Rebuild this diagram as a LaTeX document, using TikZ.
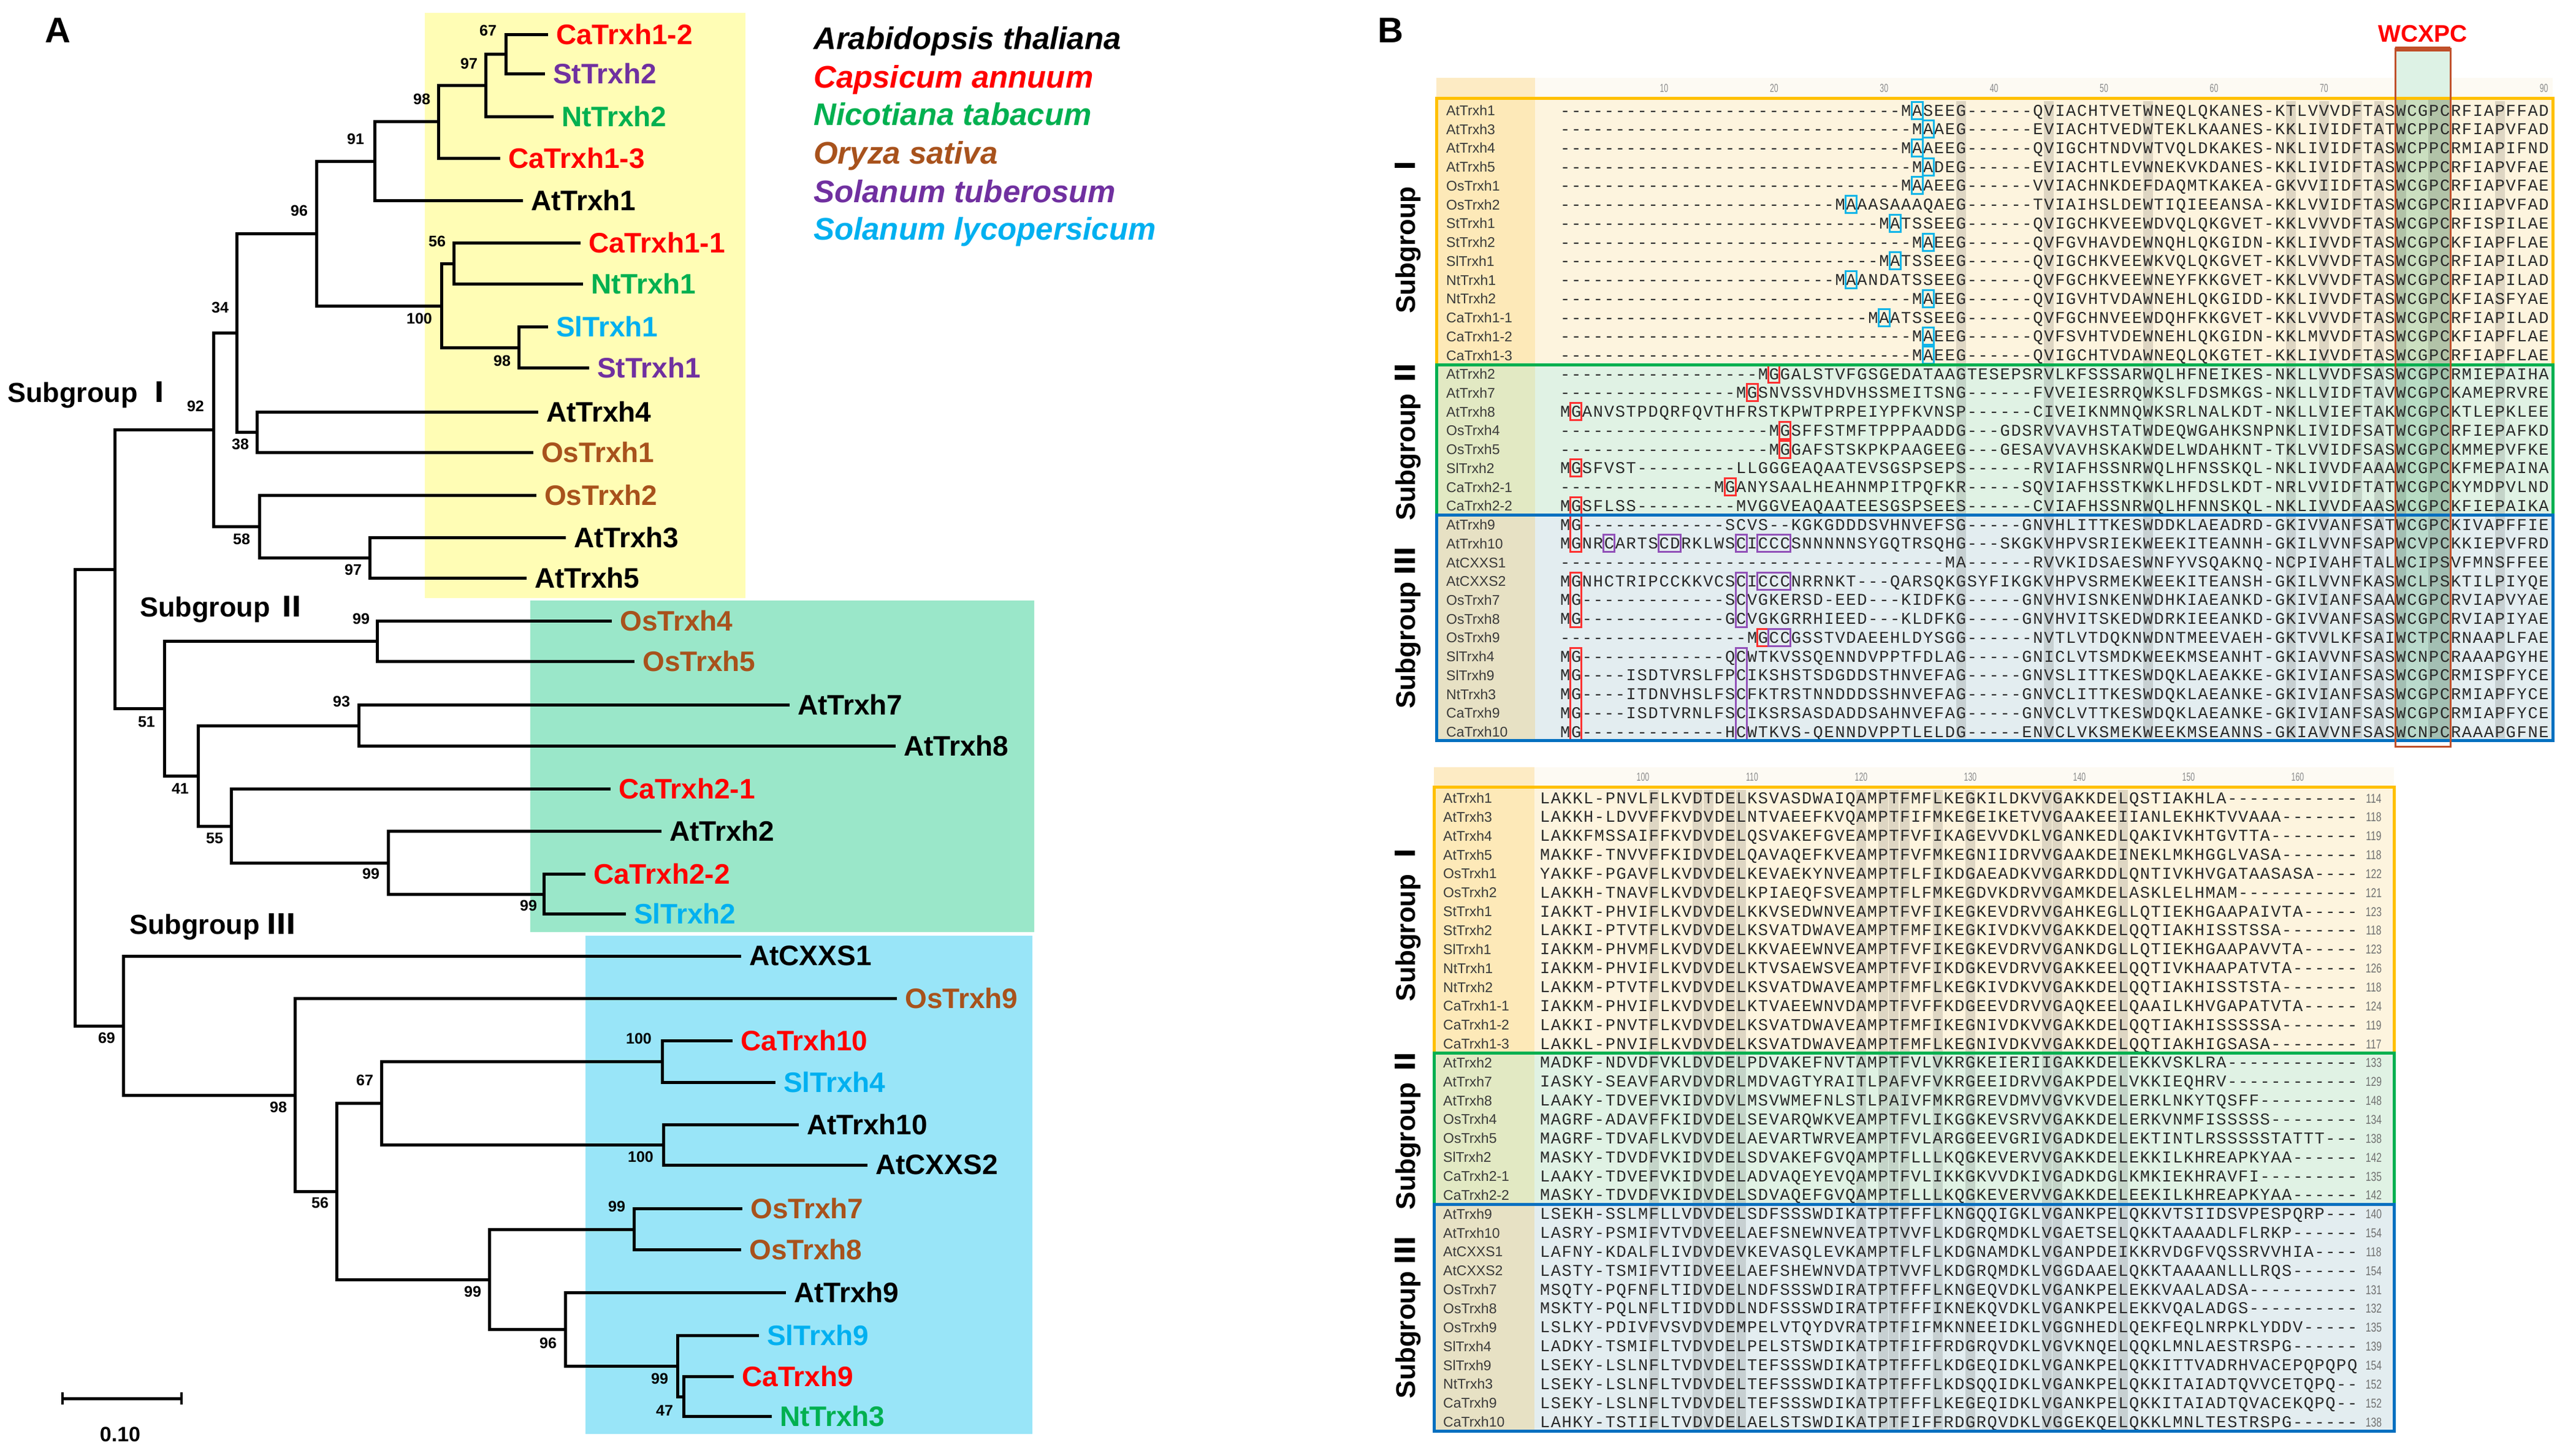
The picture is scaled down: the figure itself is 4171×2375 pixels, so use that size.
\documentclass[tikz,border=0pt]{standalone}
\usepackage{fontspec}
\setmainfont{Liberation Sans}
\newfontfamily\cjk{Noto Sans CJK SC}
\newfontfamily\seqf{Liberation Mono}
\usepackage{graphicx}
\usetikzlibrary{positioning}

\definecolor{cared}{HTML}{FF0000}
\definecolor{ntgreen}{HTML}{00B050}
\definecolor{osbrown}{HTML}{A8521C}
\definecolor{stpurple}{HTML}{7030A0}
\definecolor{slblue}{HTML}{00B0F0}
\definecolor{bgyellow}{HTML}{FFFDB5}
\definecolor{bggreen}{HTML}{9AE7C9}
\definecolor{bgblue}{HTML}{99E5F8}
\definecolor{sgonec}{HTML}{FFC000}
\definecolor{sgtwoc}{HTML}{00B050}
\definecolor{sgthreec}{HTML}{0070C0}
\definecolor{bgone}{HTML}{FDF4DE}
\definecolor{bgonen}{HTML}{FDE9B8}
\definecolor{bgtwo}{HTML}{E0F2E4}
\definecolor{bgtwon}{HTML}{E2E9C3}
\definecolor{bgthree}{HTML}{E3EDF0}
\definecolor{bgthreen}{HTML}{E7E1C4}
\definecolor{rulerbg}{HTML}{FDFAF3}
\definecolor{rulern}{HTML}{FDEBC4}
\definecolor{seqc}{HTML}{2A2A2A}
\definecolor{nmc}{HTML}{3A3A3A}
\definecolor{cntc}{HTML}{707070}
\definecolor{rlc}{HTML}{8A8A8A}
\definecolor{cybc}{HTML}{10B4E8}
\definecolor{rdbc}{HTML}{FF3030}
\definecolor{ppbc}{HTML}{9150B8}
\definecolor{wcc}{HTML}{C0502A}
\definecolor{wcfill}{HTML}{DDF2E5}
\definecolor{wcg}{HTML}{6FB88A}

\newlength\cw
\newcount\gapn
\newcommand\gaps[1]{\gapn=#1\relax\loop\ifnum\gapn>0 \makebox[\cw]{-}\advance\gapn by -1\relax\repeat}
\newcommand\sq[1]{\sqloop#1\relax}
\def\sqloop#1{\ifx\relax#1\else\makebox[\cw]{#1}\expandafter\sqloop\fi}

\newcommand\toprow[3]{%
 \node[nm] (tn#1) at (2359,{180+#1*30.73+8.5}) {#2};
 \node[seq] (ts#1) at (2544,{180+#1*30.73+9}) {#3};}
\newcommand\botrow[4]{%
 \node[nm] (bn#1) at (2354,{1302+#1*30.85+8.5}) {#2};
 \node[seq] (bs#1) at (2511,{1302+#1*30.85+9}) {#3};
 \node[cnt] (bc#1) at (3872,{1302+#1*30.85+8}) {\scalebox{0.75}[1]{#4}};}
\newcommand\hlbox[5]{\draw[#1] ({2553+(#2-1)*17.94-9},{180+#4*30.73-14}) rectangle ({2553+(#3-1)*17.94+9},{180+#5*30.73+14});}
\newcommand\leafnode[5]{\coordinate (t#1) at (#2,#3); \node[lab,text=#4,right=16pt of t#1] (L#1) {#5};}

\tikzset{
 lab/.style={font=\fontsize{46}{46}\selectfont\bfseries, inner sep=0pt},
 bs/.style={font=\fontsize{25}{25}\selectfont\bfseries, inner sep=0pt},
 br/.style={line width=5pt, line cap=rect},
 sg/.style={font=\fontsize{45}{45}\selectfont\bfseries, inner sep=0pt, anchor=base west},
 leg/.style={font=\fontsize{51}{51}\selectfont\bfseries\itshape, inner sep=0pt, anchor=base west},
 seq/.style={font=\seqf\fontsize{27}{27}\selectfont, inner sep=0pt, anchor=base west, text=seqc},
 nm/.style={font=\fontsize{23}{23}\selectfont, inner sep=0pt, anchor=base west, text=nmc},
 cnt/.style={font=\fontsize{21}{21}\selectfont, inner sep=0pt, anchor=base, text=cntc},
 rl/.style={font=\fontsize{19}{19}\selectfont, inner sep=0pt, anchor=base, text=rlc},
 sgB/.style={font=\fontsize{44}{44}\selectfont\bfseries, inner sep=0pt, rotate=90},
 cyb/.style={draw=cybc, line width=3pt},
 rdb/.style={draw=rdbc, line width=3pt},
 ppb/.style={draw=ppbc, line width=3pt},
 band/.style={fill=black, fill opacity=0.12},
}

\begin{document}
\begin{tikzpicture}[x=1pt,y=-1pt]
\useasboundingbox (0,0) rectangle (4171,2375);
\fill[white] (0,0) rectangle (4171,2375);

% ---------------- Panel A backgrounds
\fill[bgyellow] (693,21) rectangle (1216,976);
\fill[bggreen] (865,980) rectangle (1687,1521);
\fill[bgblue] (955,1527) rectangle (1684,2340);

\node[font=\fontsize{58}{58}\selectfont\bfseries, anchor=base west, inner sep=0pt] (pA) at (73,69) {A};

% leaves
\leafnode{1}{891}{56}{cared}{CaTrxh1-2}
\leafnode{2}{886}{120}{stpurple}{StTrxh2}
\leafnode{3}{900}{190}{ntgreen}{NtTrxh2}
\leafnode{4}{813}{258}{cared}{CaTrxh1-3}
\leafnode{5}{850}{327}{black}{AtTrxh1}
\leafnode{6}{944}{396}{cared}{CaTrxh1-1}
\leafnode{7}{948}{463}{ntgreen}{NtTrxh1}
\leafnode{8}{891}{533}{slblue}{SlTrxh1}
\leafnode{9}{958}{600}{stpurple}{StTrxh1}
\leafnode{10}{875}{672}{black}{AtTrxh4}
\leafnode{11}{867}{738}{osbrown}{OsTrxh1}
\leafnode{12}{872}{808}{osbrown}{OsTrxh2}
\leafnode{13}{920}{877}{black}{AtTrxh3}
\leafnode{14}{856}{943}{black}{AtTrxh5}
\leafnode{15}{995}{1013}{osbrown}{OsTrxh4}
\leafnode{16}{1032}{1079}{osbrown}{OsTrxh5}
\leafnode{17}{1285}{1150}{black}{AtTrxh7}
\leafnode{18}{1458}{1217}{black}{AtTrxh8}
\leafnode{19}{993}{1287}{cared}{CaTrxh2-1}
\leafnode{20}{1076}{1356}{black}{AtTrxh2}
\leafnode{21}{952}{1426}{cared}{CaTrxh2-2}
\leafnode{22}{1018}{1491}{slblue}{SlTrxh2}
\leafnode{23}{1206}{1560}{black}{AtCXXS1}
\leafnode{24}{1460}{1629}{osbrown}{OsTrxh9}
\leafnode{25}{1192}{1698}{cared}{CaTrxh10}
\leafnode{26}{1262}{1766}{slblue}{SlTrxh4}
\leafnode{27}{1300}{1835}{black}{AtTrxh10}
\leafnode{28}{1412}{1901}{black}{AtCXXS2}
\leafnode{29}{1208}{1972}{osbrown}{OsTrxh7}
\leafnode{30}{1206}{2039}{osbrown}{OsTrxh8}
\leafnode{31}{1279}{2109}{black}{AtTrxh9}
\leafnode{32}{1235}{2179}{slblue}{SlTrxh9}
\leafnode{33}{1194}{2246}{cared}{CaTrxh9}
\leafnode{34}{1256}{2311}{ntgreen}{NtTrxh3}

% internal nodes
\coordinate (nA) at (825,88);
\coordinate (nB) at (792,139);
\coordinate (nC) at (715,198);
\coordinate (nD) at (611,263);
\coordinate (nE) at (740,430);
\coordinate (nF) at (846,567);
\coordinate (nG) at (720,499);
\coordinate (nH) at (516,381);
\coordinate (nI) at (419,705);
\coordinate (nJ) at (386,543);
\coordinate (nK) at (603,910);
\coordinate (nL) at (423,859);
\coordinate (nM) at (348,701);
\coordinate (nN) at (615,1046);
\coordinate (nO) at (585,1184);
\coordinate (nP) at (887,1459);
\coordinate (nQ) at (633,1408);
\coordinate (nR) at (377,1348);
\coordinate (nS) at (323,1266);
\coordinate (nT) at (268,1156);
\coordinate (nU) at (187,929);
\coordinate (nV) at (1080,1732);
\coordinate (nW) at (1082,1868);
\coordinate (nX) at (622,1800);
\coordinate (nY) at (1034,2006);
\coordinate (nZ) at (1115,2279);
\coordinate (nAA) at (1105,2229);
\coordinate (nAB) at (922,2169);
\coordinate (nAC) at (798,2088);
\coordinate (nAD) at (549,1944);
\coordinate (nAE) at (481,1787);
\coordinate (nAF) at (201,1674);
\coordinate (root) at (122,1302);

\draw[br] (nA) |- (t1); \draw[br] (nA) |- (t2);
\draw[br] (nB) |- (nA); \draw[br] (nB) |- (t3);
\draw[br] (nC) |- (nB); \draw[br] (nC) |- (t4);
\draw[br] (nD) |- (nC); \draw[br] (nD) |- (t5);
\draw[br] (nE) |- (t6); \draw[br] (nE) |- (t7);
\draw[br] (nF) |- (t8); \draw[br] (nF) |- (t9);
\draw[br] (nG) |- (nE); \draw[br] (nG) |- (nF);
\draw[br] (nH) |- (nD); \draw[br] (nH) |- (nG);
\draw[br] (nI) |- (t10); \draw[br] (nI) |- (t11);
\draw[br] (nJ) |- (nH); \draw[br] (nJ) |- (nI);
\draw[br] (nK) |- (t13); \draw[br] (nK) |- (t14);
\draw[br] (nL) |- (t12); \draw[br] (nL) |- (nK);
\draw[br] (nM) |- (nJ); \draw[br] (nM) |- (nL);
\draw[br] (nN) |- (t15); \draw[br] (nN) |- (t16);
\draw[br] (nO) |- (t17); \draw[br] (nO) |- (t18);
\draw[br] (nP) |- (t21); \draw[br] (nP) |- (t22);
\draw[br] (nQ) |- (t20); \draw[br] (nQ) |- (nP);
\draw[br] (nR) |- (t19); \draw[br] (nR) |- (nQ);
\draw[br] (nS) |- (nO); \draw[br] (nS) |- (nR);
\draw[br] (nT) |- (nN); \draw[br] (nT) |- (nS);
\draw[br] (nU) |- (nM); \draw[br] (nU) |- (nT);
\draw[br] (nV) |- (t25); \draw[br] (nV) |- (t26);
\draw[br] (nW) |- (t27); \draw[br] (nW) |- (t28);
\draw[br] (nX) |- (nV); \draw[br] (nX) |- (nW);
\draw[br] (nY) |- (t29); \draw[br] (nY) |- (t30);
\draw[br] (nZ) |- (t33); \draw[br] (nZ) |- (t34);
\draw[br] (nAA) |- (t32); \draw[br] (nAA) |- (nZ);
\draw[br] (nAB) |- (t31); \draw[br] (nAB) |- (nAA);
\draw[br] (nAC) |- (nY); \draw[br] (nAC) |- (nAB);
\draw[br] (nAD) |- (nX); \draw[br] (nAD) |- (nAC);
\draw[br] (nAE) |- (t24); \draw[br] (nAE) |- (nAD);
\draw[br] (nAF) |- (t23); \draw[br] (nAF) |- (nAE);
\draw[br] (root) |- (nU); \draw[br] (root) |- (nAF);

% bootstrap values
\node[bs] (b1) at (796,50) {67};
\node[bs] (b2) at (765,104) {97};
\node[bs] (b3) at (688,162) {98};
\node[bs] (b4) at (580,227) {91};
\node[bs] (b5) at (488,344) {96};
\node[bs] (b6) at (713,394) {56};
\node[bs] (b7) at (684,520) {100};
\node[bs] (b8) at (819,589) {98};
\node[bs] (b9) at (359,502) {34};
\node[bs] (b10) at (319,663) {92};
\node[bs] (b11) at (392,725) {38};
\node[bs] (b12) at (394,880) {58};
\node[bs] (b13) at (576,930) {97};
\node[bs] (b14) at (589,1010) {99};
\node[bs] (b15) at (557,1145) {93};
\node[bs] (b16) at (239,1178) {51};
\node[bs] (b17) at (294,1287) {41};
\node[bs] (b18) at (350,1368) {55};
\node[bs] (b19) at (605,1426) {99};
\node[bs] (b20) at (862,1478) {99};
\node[bs] (b21) at (174,1694) {69};
\node[bs] (b22) at (1042,1695) {100};
\node[bs] (b23) at (595,1763) {67};
\node[bs] (b24) at (454,1807) {98};
\node[bs] (b25) at (1045,1888) {100};
\node[bs] (b26) at (522,1963) {56};
\node[bs] (b27) at (1006,1969) {99};
\node[bs] (b28) at (771,2108) {99};
\node[bs] (b29) at (894,2192) {96};
\node[bs] (b30) at (1076,2250) {99};
\node[bs] (b31) at (1084,2302) {47};

% subgroup labels panel A
\node[sg] (sA1) at (12,656) {Subgroup {\cjk Ⅰ}};
\node[sg] (sA2) at (228,1006) {Subgroup {\cjk Ⅱ}};
\node[sg] (sA3) at (211,1524) {Subgroup {\cjk Ⅲ}};

% scale bar
\coordinate (sb1) at (102,2282);
\coordinate (sb2) at (296,2282);
\draw[line width=5pt] (sb1) -- (sb2);
\draw[line width=4pt] ([yshift=-10pt]sb1) -- ([yshift=10pt]sb1);
\draw[line width=4pt] ([yshift=-10pt]sb2) -- ([yshift=10pt]sb2);
\node[font=\fontsize{34}{34}\selectfont\bfseries, inner sep=0pt] (sbl) at (196,2341) {0.10};

% legend
\node[leg] (lg1) at (1327,80) {Arabidopsis thaliana};
\node[leg, text=cared] (lg2) at (1327,143) {Capsicum annuum};
\node[leg, text=ntgreen] (lg3) at (1327,204) {Nicotiana tabacum};
\node[leg, text=osbrown] (lg4) at (1327,267) {Oryza sativa};
\node[leg, text=stpurple] (lg5) at (1327,330) {Solanum tuberosum};
\node[leg, text=slblue] (lg6) at (1327,391) {Solanum lycopersicum};

% ---------------- Panel B
\node[font=\fontsize{58}{58}\selectfont\bfseries, anchor=base west, inner sep=0pt] (pB) at (2247,69) {B};
\node[font=\fontsize{39}{39}\selectfont\bfseries, text=red, anchor=base, inner sep=0pt] (wcx) at (3952,68) {WCXPC};

% top block backgrounds
\fill[rulerbg] (2343,127) rectangle (4164,158);
\fill[rulern] (2343,127) rectangle (2504,158);
\fill[bgone] (2343,160) rectangle (4164,595);
\fill[bgonen] (2343,160) rectangle (2504,595);
\fill[bgtwo] (2343,595) rectangle (4164,840);
\fill[bgtwon] (2343,595) rectangle (2504,840);
\fill[bgthree] (2343,840) rectangle (4164,1208);
\fill[bgthreen] (2343,840) rectangle (2504,1208);
\foreach \kk in {10,20,...,90} {\node[rl] at ({2553+(\kk-1)*17.94},150) {\scalebox{0.65}[1]{\kk}};}
\foreach \xc in {37,45,54,67,70,73,75,86} {\fill[band] ({2553+(\xc-1)*17.94-8},165) rectangle ++(16,1040);}
\fill[wcfill] (3907,82) rectangle (3997,158);
\fill[wcg, fill opacity=0.35] (3907,162) rectangle (3997,1206);
\foreach \xc in {77,80,81} {\fill[band] ({2553+(\xc-1)*17.94-9},162) rectangle ++(18,1044);}

% bottom block backgrounds
\fill[rulerbg] (2339,1252) rectangle (3905,1282);
\fill[rulern] (2339,1252) rectangle (2503,1282);
\fill[bgone] (2339,1284) rectangle (3905,1718);
\fill[bgonen] (2339,1284) rectangle (2503,1718);
\fill[bgtwo] (2339,1718) rectangle (3905,1965);
\fill[bgtwon] (2339,1718) rectangle (2503,1965);
\fill[bgthree] (2339,1965) rectangle (3905,2335);
\fill[bgthreen] (2339,1965) rectangle (2503,2335);
\foreach \kk in {100,110,...,160} {\node[rl] at ({2519.8+(\kk-91)*17.8},1274) {\scalebox{0.65}[1]{\kk}};}
\foreach \xc in {101,105,106,108,109,120,122,123,124,127,130,137,138,144} {\fill[band] ({2519.8+(\xc-91)*17.8-8},1289) rectangle ++(16,1044);}

% top block rows
\setlength\cw{17.94pt}
\toprow{0}{AtTrxh1}{\gaps{31}\sq{MASEEG}\gaps{6}\sq{QVIACHTVETWNEQLQKANES}\gaps{1}\sq{KTLVVVDFTASWCGPCRFIAPFFAD}}
\toprow{1}{AtTrxh3}{\gaps{32}\sq{MAAEG}\gaps{6}\sq{EVIACHTVEDWTEKLKAANES}\gaps{1}\sq{KKLIVIDFTATWCPPCRFIAPVFAD}}
\toprow{2}{AtTrxh4}{\gaps{31}\sq{MAAEEG}\gaps{6}\sq{QVIGCHTNDVWTVQLDKAKES}\gaps{1}\sq{NKLIVIDFTASWCPPCRMIAPIFND}}
\toprow{3}{AtTrxh5}{\gaps{32}\sq{MADEG}\gaps{6}\sq{EVIACHTLEVWNEKVKDANES}\gaps{1}\sq{KKLIVIDFTASWCPPCRFIAPVFAE}}
\toprow{4}{OsTrxh1}{\gaps{31}\sq{MAAEEG}\gaps{6}\sq{VVIACHNKDEFDAQMTKAKEA}\gaps{1}\sq{GKVVIIDFTASWCGPCRFIAPVFAE}}
\toprow{5}{OsTrxh2}{\gaps{25}\sq{MAAASAAAQAEG}\gaps{6}\sq{TVIAIHSLDEWTIQIEEANSA}\gaps{1}\sq{KKLVVIDFTASWCGPCRIIAPVFAD}}
\toprow{6}{StTrxh1}{\gaps{29}\sq{MATSSEEG}\gaps{6}\sq{QVIGCHKVEEWDVQLQKGVET}\gaps{1}\sq{KKLVVVDFTASWCGPCRFISPILAE}}
\toprow{7}{StTrxh2}{\gaps{32}\sq{MAEEG}\gaps{6}\sq{QVFGVHAVDEWNQHLQKGIDN}\gaps{1}\sq{KKLIVVDFTASWCGPCKFIAPFLAE}}
\toprow{8}{SlTrxh1}{\gaps{29}\sq{MATSSEEG}\gaps{6}\sq{QVIGCHKVEEWKVQLQKGVET}\gaps{1}\sq{KKLVVVDFTASWCGPCRFIAPILAD}}
\toprow{9}{NtTrxh1}{\gaps{25}\sq{MAANDATSSEEG}\gaps{6}\sq{QVFGCHKVEEWNEYFKKGVET}\gaps{1}\sq{KKLVVVDFTASWCGPCRFIAPILAD}}
\toprow{10}{NtTrxh2}{\gaps{32}\sq{MAEEG}\gaps{6}\sq{QVIGVHTVDAWNEHLQKGIDD}\gaps{1}\sq{KKLIVVDFTASWCGPCKFIASFYAE}}
\toprow{11}{CaTrxh1-1}{\gaps{28}\sq{MAATSSEEG}\gaps{6}\sq{QVFGCHNVEEWDQHFKKGVET}\gaps{1}\sq{KKLVVVDFTASWCGPCRFIAPILAD}}
\toprow{12}{CaTrxh1-2}{\gaps{32}\sq{MAEEG}\gaps{6}\sq{QVFSVHTVDEWNEHLQKGIDN}\gaps{1}\sq{KKLMVVDFTASWCGPCKFIAPFLAE}}
\toprow{13}{CaTrxh1-3}{\gaps{32}\sq{MAEEG}\gaps{6}\sq{QVIGCHTVDAWNEQLQKGTET}\gaps{1}\sq{KKLIVVDFTASWCGPCRFIAPFLAE}}
\toprow{14}{AtTrxh2}{\gaps{18}\sq{MGGALSTVFGSGEDATAAGTESEPSRVLKFSSSARWQLHFNEIKES}\gaps{1}\sq{NKLLVVDFSASWCGPCRMIEPAIHA}}
\toprow{15}{AtTrxh7}{\gaps{16}\sq{MGSNVSSVHDVHSSMEITSNG}\gaps{6}\sq{FVVEIESRRQWKSLFDSMKGS}\gaps{1}\sq{NKLLVIDFTAVWCGPCKAMEPRVRE}}
\toprow{16}{AtTrxh8}{\sq{MGANVSTPDQRFQVTHFRSTKPWTPRPEIYPFKVNSP}\gaps{6}\sq{CIVEIKNMNQWKSRLNALKDT}\gaps{1}\sq{NKLLVIEFTAKWCGPCKTLEPKLEE}}
\toprow{17}{OsTrxh4}{\gaps{19}\sq{MGSFFSTMFTPPPAADDG}\gaps{3}\sq{GDSRVVAVHSTATWDEQWGAHKSNPNKLIVIDFSATWCGPCRFIEPAFKD}}
\toprow{18}{OsTrxh5}{\gaps{19}\sq{MGGAFSTSKPKPAAGEEG}\gaps{3}\sq{GESAVVAVHSKAKWDELWDAHKNT}\gaps{1}\sq{TKLVVIDFSASWCGPCKMMEPVFKE}}
\toprow{19}{SlTrxh2}{\sq{MGSFVST}\gaps{9}\sq{LLGGGEAQAATEVSGSPSEPS}\gaps{6}\sq{RVIAFHSSNRWQLHFNSSKQL}\gaps{1}\sq{NKLIVVDFAAAWCGPCKFMEPAINA}}
\toprow{20}{CaTrxh2-1}{\gaps{14}\sq{MGANYSAALHEAHNMPITPQFKR}\gaps{5}\sq{SQVIAFHSSTKWKLHFDSLKDT}\gaps{1}\sq{NRLVVIDFTATWCGPCKYMDPVLND}}
\toprow{21}{CaTrxh2-2}{\sq{MGSFLSS}\gaps{9}\sq{MVGGVEAQAATEESGSPSEES}\gaps{6}\sq{CVIAFHSSNRWQLHFNNSKQL}\gaps{1}\sq{NKLIVVDFAASWCGPCKFIEPAIKA}}
\toprow{22}{AtTrxh9}{\sq{MG}\gaps{13}\sq{SCVS}\gaps{2}\sq{KGKGDDDSVHNVEFSG}\gaps{5}\sq{GNVHLITTKESWDDKLAEADRD}\gaps{1}\sq{GKIVVANFSATWCGPCKIVAPFFIE}}
\toprow{23}{AtTrxh10}{\sq{MGNRCARTSCDRKLWSCICCCSNNNNNSYGQTRSQHG}\gaps{3}\sq{SKGKVHPVSRIEKWEEKITEANNH}\gaps{1}\sq{GKILVVNFSAPWCVPCKKIEPVFRD}}
\toprow{24}{AtCXXS1}{\gaps{35}\sq{MA}\gaps{6}\sq{RVVKIDSAESWNFYVSQAKNQ}\gaps{1}\sq{NCPIVAHFTALWCIPSVFMNSFFEE}}
\toprow{25}{AtCXXS2}{\sq{MGNHCTRIPCCKKVCSCICCCNRRNKT}\gaps{3}\sq{QARSQKGSYFIKGKVHPVSRMEKWEEKITEANSH}\gaps{1}\sq{GKILVVNFKASWCLPSKTILPIYQE}}
\toprow{26}{OsTrxh7}{\sq{MG}\gaps{13}\sq{SCVGKERSD}\gaps{1}\sq{EED}\gaps{3}\sq{KIDFKG}\gaps{5}\sq{GNVHVISNKENWDHKIAEANKD}\gaps{1}\sq{GKIVIANFSAAWCGPCRVIAPVYAE}}
\toprow{27}{OsTrxh8}{\sq{MG}\gaps{13}\sq{GCVGKGRRHIEED}\gaps{3}\sq{KLDFKG}\gaps{5}\sq{GNVHVITSKEDWDRKIEEANKD}\gaps{1}\sq{GKIVVANFSASWCGPCRVIAPIYAE}}
\toprow{28}{OsTrxh9}{\gaps{17}\sq{MGCCGSSTVDAEEHLDYSGG}\gaps{6}\sq{NVTLVTDQKNWDNTMEEVAEH}\gaps{1}\sq{GKTVVLKFSAIWCTPCRNAAPLFAE}}
\toprow{29}{SlTrxh4}{\sq{MG}\gaps{13}\sq{QCWTKVSSQENNDVPPTFDLAG}\gaps{5}\sq{GNICLVTSMDKWEEKMSEANHT}\gaps{1}\sq{GKIAVVNFSASWCNPCRAAAPGYHE}}
\toprow{30}{SlTrxh9}{\sq{MG}\gaps{4}\sq{ISDTVRSLFPCIKSHSTSDGDDSTHNVEFAG}\gaps{5}\sq{GNVSLITTKESWDQKLAEAKKE}\gaps{1}\sq{GKIVIANFSASWCGPCRMISPFYCE}}
\toprow{31}{NtTrxh3}{\sq{MG}\gaps{4}\sq{ITDNVHSLFSCFKTRSTNNDDDSSHNVEFAG}\gaps{5}\sq{GNVCLITTKESWDQKLAEANKE}\gaps{1}\sq{GKIVIANFSASWCGPCRMIAPFYCE}}
\toprow{32}{CaTrxh9}{\sq{MG}\gaps{4}\sq{ISDTVRNLFSCIKSRSASDADDSAHNVEFAG}\gaps{5}\sq{GNVCLVTTKESWDQKLAEANKE}\gaps{1}\sq{GKIVIANFSASWCGPCRMIAPFYCE}}
\toprow{33}{CaTrxh10}{\sq{MG}\gaps{13}\sq{HCWTKVS}\gaps{1}\sq{QENNDVPPTLELDG}\gaps{5}\sq{ENVCLVKSMEKWEEKMSEANNS}\gaps{1}\sq{GKIAVVNFSASWCNPCRAAAPGFNE}}

% highlight boxes, top block
\foreach \xc/\xr in {33/0,34/1,33/2,34/3,33/4,27/5,31/6,34/7,31/8,27/9,34/10,30/11,34/12,34/13} {\hlbox{cyb}{\xc}{\xc}{\xr}{\xr}}
\foreach \xc/\xr in {20/14,18/15,2/16,21/17,21/18,2/19,16/20,19/28} {\hlbox{rdb}{\xc}{\xc}{\xr}{\xr}}
\hlbox{rdb}{2}{2}{21}{23}
\hlbox{rdb}{2}{2}{25}{27}
\hlbox{rdb}{2}{2}{29}{33}
\hlbox{ppb}{5}{5}{23}{23}
\hlbox{ppb}{10}{11}{23}{23}
\hlbox{ppb}{17}{17}{23}{23}
\hlbox{ppb}{19}{21}{23}{23}
\hlbox{ppb}{19}{21}{25}{25}
\hlbox{ppb}{17}{17}{25}{27}
\hlbox{ppb}{20}{21}{28}{28}
\hlbox{ppb}{17}{17}{29}{33}

% bottom block rows
\setlength\cw{17.8pt}
\botrow{0}{AtTrxh1}{\sq{LAKKL-PNVLFLKVDTDELKSVASDWAIQAMPTFMFLKEGKILDKVVGAKKDELQSTIAKHLA}\gaps{12}}{114}
\botrow{1}{AtTrxh3}{\sq{LAKKH-LDVVFFKVDVDELNTVAEEFKVQAMPTFIFMKEGEIKETVVGAAKEEIIANLEKHKTVVAAA}\gaps{7}}{118}
\botrow{2}{AtTrxh4}{\sq{LAKKFMSSAIFFKVDVDELQSVAKEFGVEAMPTFVFIKAGEVVDKLVGANKEDLQAKIVKHTGVTTA}\gaps{8}}{119}
\botrow{3}{AtTrxh5}{\sq{MAKKF-TNVVFFKIDVDELQAVAQEFKVEAMPTFVFMKEGNIIDRVVGAAKDEINEKLMKHGGLVASA}\gaps{7}}{118}
\botrow{4}{OsTrxh1}{\sq{YAKKF-PGAVFLKVDVDELKEVAEKYNVEAMPTFLFIKDGAEADKVVGARKDDLQNTIVKHVGATAASASA}\gaps{4}}{122}
\botrow{5}{OsTrxh2}{\sq{LAKKH-TNAVFLKVDVDELKPIAEQFSVEAMPTFLFMKEGDVKDRVVGAMKDELASKLELHMAM}\gaps{11}}{121}
\botrow{6}{StTrxh1}{\sq{IAKKT-PHVIFLKVDVDELKKVSEDWNVEAMPTFVFIKEGKEVDRVVGAHKEGLLQTIEKHGAAPAIVTA}\gaps{5}}{123}
\botrow{7}{StTrxh2}{\sq{LAKKI-PTVTFLKVDVDELKSVATDWAVEAMPTFMFIKEGKIVDKVVGAKKDELQQTIAKHISSTSSA}\gaps{7}}{118}
\botrow{8}{SlTrxh1}{\sq{IAKKM-PHVMFLKVDVDELKKVAEEWNVEAMPTFVFIKEGKEVDRVVGANKDGLLQTIEKHGAAPAVVTA}\gaps{5}}{123}
\botrow{9}{NtTrxh1}{\sq{IAKKM-PHVIFLKVDVDELKTVSAEWSVEAMPTFVFIKDGKEVDRVVGAKKEELQQTIVKHAAPATVTA}\gaps{6}}{126}
\botrow{10}{NtTrxh2}{\sq{LAKKM-PTVTFLKVDVDELKSVATDWAVEAMPTFMFLKEGKIVDKVVGAKKDELQQTIAKHISSTSTA}\gaps{7}}{118}
\botrow{11}{CaTrxh1-1}{\sq{IAKKM-PHVIFLKVDVDELKTVAEEWNVDAMPTFVFFKDGEEVDRVVGAQKEELQAAILKHVGAPATVTA}\gaps{5}}{124}
\botrow{12}{CaTrxh1-2}{\sq{LAKKI-PNVTFLKVDVDELKSVATDWAVEAMPTFMFIKEGNIVDKVVGAKKDELQQTIAKHISSSSSA}\gaps{7}}{119}
\botrow{13}{CaTrxh1-3}{\sq{LAKKL-PNVIFLKVDVDELKSVATDWAVEAMPTFMFLKEGNIVDKVVGAKKDELQQTIAKHIGSASA}\gaps{8}}{117}
\botrow{14}{AtTrxh2}{\sq{MADKF-NDVDFVKLDVDELPDVAKEFNVTAMPTFVLVKRGKEIERIIGAKKDELEKKVSKLRA}\gaps{12}}{133}
\botrow{15}{AtTrxh7}{\sq{IASKY-SEAVFARVDVDRLMDVAGTYRAITLPAFVFVKRGEEIDRVVGAKPDELVKKIEQHRV}\gaps{12}}{129}
\botrow{16}{AtTrxh8}{\sq{LAAKY-TDVEFVKIDVDVLMSVWMEFNLSTLPAIVFMKRGREVDMVVGVKVDELERKLNKYTQSFF}\gaps{9}}{148}
\botrow{17}{OsTrxh4}{\sq{MAGRF-ADAVFFKIDVDELSEVARQWKVEAMPTFVLIKGGKEVSRVVGAKKDELERKVNMFISSSSS}\gaps{8}}{134}
\botrow{18}{OsTrxh5}{\sq{MAGRF-TDVAFLKVDVDELAEVARTWRVEAMPTFVLARGGEEVGRIVGADKDELEKTINTLRSSSSSTATTT}\gaps{3}}{138}
\botrow{19}{SlTrxh2}{\sq{MASKY-TDVDFVKIDVDELSDVAKEFGVQAMPTFLLLKQGKEVERVVGAKKDELEKKILKHREAPKYAA}\gaps{6}}{142}
\botrow{20}{CaTrxh2-1}{\sq{LAAKY-TDVEFVKIDVDELADVAQEYEVQAMPTFVLIKKGKVVDKIVGADKDGLKMKIEKHRAVFI}\gaps{9}}{135}
\botrow{21}{CaTrxh2-2}{\sq{MASKY-TDVDFVKIDVDELSDVAQEFGVQAMPTFLLLKQGKEVERVVGAKKDELEEKILKHREAPKYAA}\gaps{6}}{142}
\botrow{22}{AtTrxh9}{\sq{LSEKH-SSLMFLLVDVDELSDFSSSWDIKATPTFFFLKNGQQIGKLVGANKPELQKKVTSIIDSVPESPQRP}\gaps{3}}{140}
\botrow{23}{AtTrxh10}{\sq{LASRY-PSMIFVTVDVEELAEFSNEWNVEATPTVVFLKDGRQMDKLVGAETSELQKKTAAAADLFLRKP}\gaps{6}}{154}
\botrow{24}{AtCXXS1}{\sq{LAFNY-KDALFLIVDVDEVKEVASQLEVKAMPTFLFLKDGNAMDKLVGANPDEIKKRVDGFVQSSRVVHIA}\gaps{4}}{118}
\botrow{25}{AtCXXS2}{\sq{LASTY-TSMIFVTIDVEELAEFSHEWNVDATPTVVFLKDGRQMDKLVGGDAAELQKKTAAAANLLLRQS}\gaps{6}}{154}
\botrow{26}{OsTrxh7}{\sq{MSQTY-PQFNFLTIDVDELNDFSSSWDIRATPTFFFLKNGEQVDKLVGANKPELEKKVAALADSA}\gaps{10}}{131}
\botrow{27}{OsTrxh8}{\sq{MSKTY-PQLNFLTIDVDDLNDFSSSWDIRATPTFFFIKNEKQVDKLVGANKPELEKKVQALADGS}\gaps{10}}{132}
\botrow{28}{OsTrxh9}{\sq{LSLKY-PDIVFVSVDVDEMPELVTQYDVRATPTFIFMKNNEEIDKLVGGNHEDLQEKFEQLNRPKLYDDV}\gaps{5}}{135}
\botrow{29}{SlTrxh4}{\sq{LADKY-TSMIFLTVDVDELPELSTSWDIKATPTFIFFRDGRQVDKLVGVKNQELQQKLMNLAESTRSPG}\gaps{6}}{139}
\botrow{30}{SlTrxh9}{\sq{LSEKY-LSLNFLTVDVDELTEFSSSWDIKATPTFFFLKDGEQIDKLVGANKPELQKKITTVADRHVACEPQPQPQ}}{154}
\botrow{31}{NtTrxh3}{\sq{LSEKY-LSLNFLTVDVDELTEFSSSWDIKATPTFFFLKDSQQIDKLVGANKPELQKKITAIADTQVVCETQPQ}\gaps{2}}{152}
\botrow{32}{CaTrxh9}{\sq{LSEKY-LSLNFLTVDVDELTEFSSSWDIKATPTFFFLKEGEQIDKLVGANKPELQKKITAIADTQVACEKQPQ}\gaps{2}}{152}
\botrow{33}{CaTrxh10}{\sq{LAHKY-TSTIFLTVDVDELAELSTSWDIKATPTFIFFRDGRQVDKLVGGEKQELQKKLMNLTESTRSPG}\gaps{6}}{138}

% subgroup borders
\draw[sgonec, line width=5pt] (2343,160) rectangle (4164,595);
\draw[sgtwoc, line width=5pt] (2343,595) rectangle (4164,840);
\draw[sgthreec, line width=5pt] (2343,840) rectangle (4164,1208);
\draw[sgonec, line width=5pt] (2339,1284) rectangle (3905,1718);
\draw[sgtwoc, line width=5pt] (2339,1718) rectangle (3905,1965);
\draw[sgthreec, line width=5pt] (2339,1965) rectangle (3905,2335);

% WCXPC frame
\draw[wcc, line width=3pt] (3907,79) rectangle (3997,1218);
\fill[wcc] (3907,76) rectangle (3997,84);

% rotated subgroup labels panel B
\node[sgB] (sB1) at (2297,380) {Subgroup {\cjk Ⅰ}};
\node[sgB] (sB2) at (2297,718) {Subgroup {\cjk Ⅱ}};
\node[sgB] (sB3) at (2297,1025) {Subgroup {\cjk Ⅲ}};
\node[sgB] (sB4) at (2297,1502) {Subgroup {\cjk Ⅰ}};
\node[sgB] (sB5) at (2297,1842) {Subgroup {\cjk Ⅱ}};
\node[sgB] (sB6) at (2297,2150) {Subgroup {\cjk Ⅲ}};
\end{tikzpicture}
\end{document}
